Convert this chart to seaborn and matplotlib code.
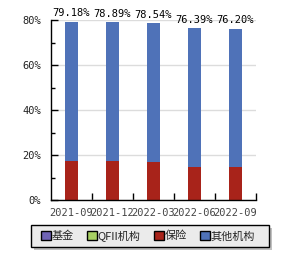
import matplotlib
matplotlib.use("Agg")
import matplotlib.pyplot as plt
import seaborn as sns
import pandas as pd
from matplotlib.patches import Patch, Rectangle
from matplotlib.ticker import MultipleLocator, FixedLocator

# Data
periods = ["2021-09", "2021-12", "2022-03", "2022-06", "2022-09"]
total_pct = [79.18, 78.89, 78.54, 76.39, 76.20]
insurance_pct = [17.3, 17.3, 16.9, 14.7, 14.7]
fund_pct = [0, 0, 0, 0, 0]
qfii_pct = [0, 0, 0, 0, 0]
legend_labels = ["基金", "QFII机构", "保险", "其他机构"]
legend_colors = ["#6f63b5", "#a8d063", "#a8231a", "#4f72b8"]
total_labels = ["79.18%", "78.89%", "78.54%", "76.39%", "76.20%"]

df = pd.DataFrame({"period": periods, "total": total_pct, "insurance": insurance_pct})

sns.set_style("white")
plt.rcParams["font.family"] = ["Noto Sans CJK SC", "DejaVu Sans"]

fig = plt.figure(figsize=(3.0, 2.6), dpi=100)
ax = fig.add_axes([51 / 300, 1 - 200 / 260, 205 / 300, 180 / 260])

sns.barplot(data=df, x="period", y="total", color="#4f72b8", width=0.32,
            saturation=1, ax=ax, edgecolor="none")
sns.barplot(data=df, x="period", y="insurance", color="#a8231a", width=0.32,
            saturation=1, ax=ax, edgecolor="none")

ax.set_xlim(-0.5, 4.5)
ax.set_ylim(0, 80)
ax.set_xlabel("")
ax.set_ylabel("")

# grid
ax.yaxis.set_major_locator(MultipleLocator(20))
ax.yaxis.set_minor_locator(MultipleLocator(10))
ax.grid(axis="y", which="major", color="#dcdcdc", linewidth=1)
ax.set_axisbelow(True)
ax.set_yticks([0, 20, 40, 60, 80])
ax.set_yticklabels(["0%", "20%", "40%", "60%", "80%"],
                   family="DejaVu Sans Mono", fontsize=7.5, color="#222222")
ax.tick_params(axis="y", which="major", direction="in", length=5, width=1,
               color="black", pad=7, left=True)
ax.tick_params(axis="y", which="minor", direction="in", length=3, width=1,
               color="black", left=True)

# x ticks: labels at centers, tick marks at boundaries
ax.set_xticks(range(len(periods)))
ax.set_xticklabels(periods, family="DejaVu Sans Mono", fontsize=7.5, color="#444444")
ax.tick_params(axis="x", which="major", length=0, pad=6)
ax.xaxis.set_minor_locator(FixedLocator([i + 0.5 for i in range(len(periods))]))
ax.tick_params(axis="x", which="minor", direction="in", length=5, width=1,
               color="black", bottom=True)

for s in ["top", "right"]:
    ax.spines[s].set_visible(False)
for s in ["left", "bottom"]:
    ax.spines[s].set_color("black")
    ax.spines[s].set_linewidth(1)

# value labels
for i, (v, lab) in enumerate(zip(total_pct, total_labels)):
    ax.text(i, v + 1.5, lab, ha="center", va="bottom",
            family="DejaVu Sans Mono", fontsize=7.5, color="black", clip_on=False)

# legend box with shadow
shadow = Rectangle((34 / 300, 1 - 250 / 260), 238 / 300, 22 / 260,
                   transform=fig.transFigure, facecolor="#c0c0c0", edgecolor="none")
box = Rectangle((31 / 300, 1 - 247 / 260), 238 / 300, 22 / 260,
                transform=fig.transFigure, facecolor="#ebebeb", edgecolor="black",
                linewidth=1)
fig.patches.extend([shadow, box])
handles = [Patch(facecolor=c, edgecolor="black", linewidth=1) for c in legend_colors]
leg = fig.legend(handles, legend_labels, loc="center", ncol=4,
                 bbox_to_anchor=(148 / 300, 1 - 236 / 260), frameon=False,
                 fontsize=8, handlelength=0.9, handleheight=0.9,
                 handletextpad=0.05, columnspacing=1.2, borderpad=0)

fig.savefig("out.png", dpi=100)
